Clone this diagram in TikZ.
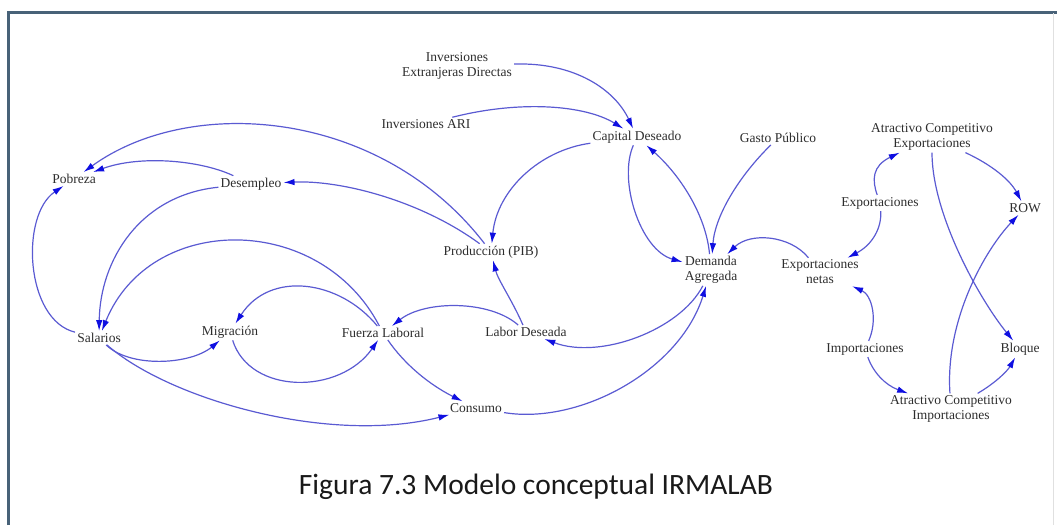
\documentclass[tikz,border=0pt]{standalone}
\usepackage{fontspec}
\usetikzlibrary{arrows.meta}
\newfontfamily\varfont{Liberation Serif}
\newfontfamily\capfont{Carlito}
\definecolor{linkblue}{RGB}{90,90,210}
\definecolor{tipblue}{RGB}{15,15,225}
\definecolor{vartext}{RGB}{45,45,45}
\definecolor{framegrey}{RGB}{72,98,120}
\tikzset{
  var/.style={font=\varfont\fontsize{13.5}{15}\selectfont, text=vartext, align=center, inner sep=2pt},
  link/.style={draw=linkblue, line width=1.2pt, -{Latex[length=11pt,width=6.5pt,color=tipblue]}}
}
\begin{document}
\begin{tikzpicture}[x=1pt,y=-1pt]
  \useasboundingbox (0,0) rectangle (1057,525);

  % Frame
  \draw[framegrey, line width=3pt] (8,525) -- (8,12) -- (1057,12);
  \draw[black!12, line width=0.8pt] (1053,13) -- (1053,525);

  % Variables
  \node[var] (pob) at (74,179) {Pobreza};
  \node[var] (desem) at (251,184) {Desempleo};
  \node[var] (ied) at (457,66) {Inversiones\\Extranjeras Directas};
  \node[var] (iari) at (426,124) {Inversiones ARI};
  \node[var] (capd) at (637,137) {Capital Deseado};
  \node[var] (prod) at (491,252) {Producción (PIB)};
  \node[var] (dem) at (711,270) {Demanda\\Agregada};
  \node[var] (gasto) at (778,138) {Gasto Público};
  \node[var] (ace) at (932,137) {Atractivo Competitivo\\Exportaciones};
  \node[var] (expo) at (880,203) {Exportaciones};
  \node[var] (row) at (1025,208) {ROW};
  \node[var] (expn) at (820,272) {Exportaciones\\netas};
  \node[var] (impo) at (865,349) {Importaciones};
  \node[var] (bloq) at (1020,349) {Bloque};
  \node[var] (aci) at (951,409) {Atractivo Competitivo\\Importaciones};
  \node[var] (sal) at (99,338) {Salarios};
  \node[var] (mig) at (230,332) {Migración};
  \node[var] (fuer) at (383,333) {Fuerza Laboral};
  \node[var] (labd) at (526,332) {Labor Deseada};
  \node[var] (cons) at (476,408) {Consumo};

  % Links
  \draw[link] (ied) .. controls (575,62) and (615,90) .. (capd);
  \draw[link] (iari) .. controls (520,100) and (585,105) .. (capd);
  \draw[link] (capd) .. controls (540,150) and (497,190) .. (prod);
  \draw[link] (capd) .. controls (618,180) and (640,250) .. (dem);
  \draw[link] (dem) .. controls (706,215) and (680,175) .. (capd);
  \draw[link] (gasto) .. controls (740,175) and (715,215) .. (dem);
  \draw[link] (expn) .. controls (790,235) and (750,232) .. (dem);
  \draw[link] (expo) .. controls (872,180) and (872,166) .. (ace);
  \draw[link] (expo) .. controls (882,228) and (872,245) .. (expn);
  \draw[link] (impo) .. controls (878,320) and (872,295) .. (expn);
  \draw[link] (impo) .. controls (873,372) and (885,385) .. (aci);
  \draw[link] (aci) .. controls (997,382) and (1008,370) .. (bloq);
  \draw[link] (ace) .. controls (992,165) and (1010,180) .. (row);
  \draw[link] (ace) .. controls (932,215) and (980,300) .. (bloq);
  \draw[link] (aci) .. controls (945,320) and (985,250) .. (row);
  \draw[link] (prod) .. controls (380,108) and (190,95) .. (pob);
  \draw[link] (prod) .. controls (420,200) and (340,180) .. (desem);
  \draw[link] (desem) .. controls (200,160) and (140,155) .. (pob);
  \draw[link] (desem) .. controls (140,195) and (100,260) .. (sal);
  \draw[link] (sal) .. controls (25,320) and (20,215) .. (pob);
  \draw[link] (fuer) .. controls (320,212) and (150,212) .. (sal);
  \draw[link] (fuer) .. controls (340,280) and (270,270) .. (mig);
  \draw[link] (sal) .. controls (130,368) and (190,365) .. (mig);
  \draw[link] (mig) .. controls (250,395) and (340,395) .. (fuer);
  \draw[link] (sal) .. controls (170,400) and (330,445) .. (cons);
  \draw[link] (fuer) .. controls (405,365) and (430,385) .. (cons);
  \draw[link] (labd) .. controls (490,300) and (425,300) .. (fuer);
  \draw[link] (labd) .. controls (512,300) and (498,280) .. (prod);
  \draw[link] (dem) .. controls (680,330) and (600,360) .. (labd);
  \draw[link] (cons) .. controls (580,425) and (680,370) .. (dem);

  % Caption
  \node[font=\capfont\fontsize{29.5}{32}\selectfont, text=black!90] (caption) at (536,487) {Figura 7.3 Modelo conceptual IRMALAB};
\end{tikzpicture}
\end{document}
